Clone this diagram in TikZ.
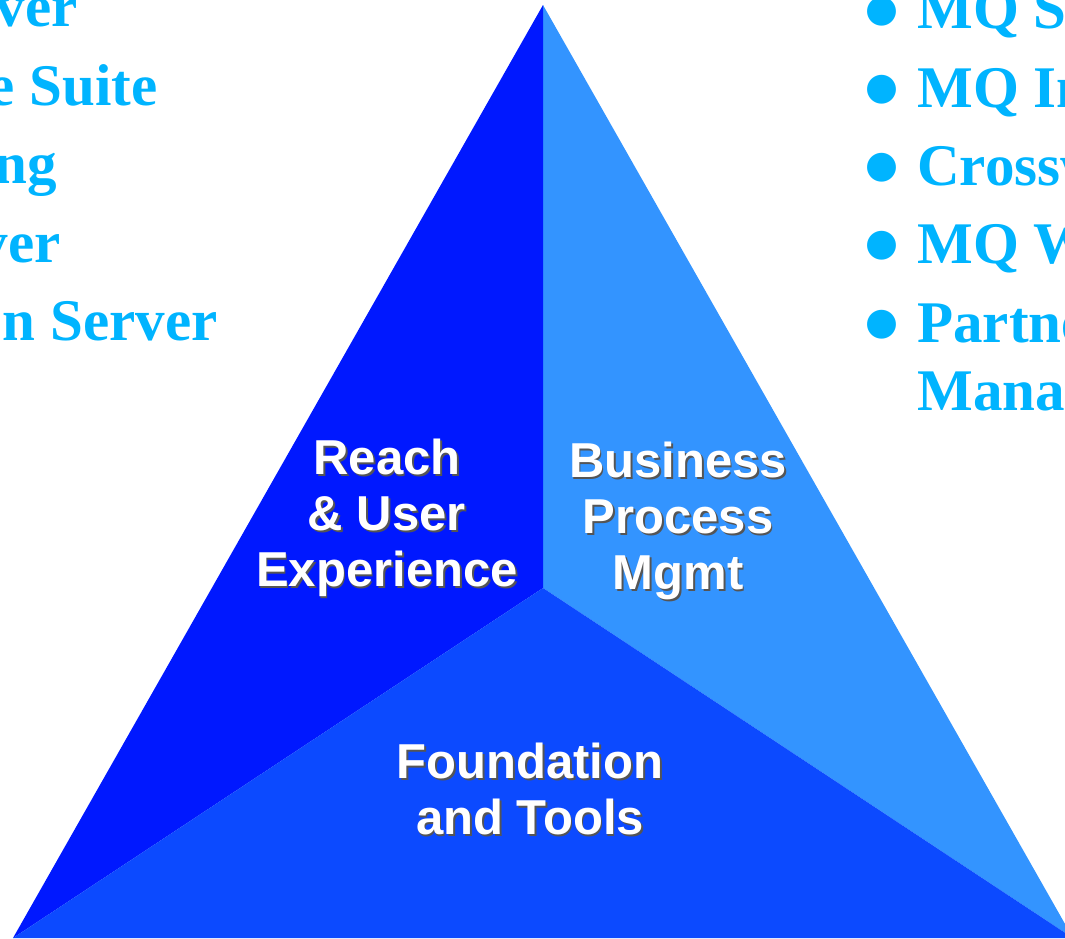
\documentclass[tikz,border=0pt]{standalone}
\usepackage{fontspec}
\usepackage{tikz}
\usetikzlibrary{positioning}
\setmainfont{Liberation Serif}
\newfontfamily\labelfont{Liberation Sans}
\newfontfamily\bulletfont{DejaVu Sans}
\definecolor{reachblue}{RGB}{0,24,255}
\definecolor{basisblue}{RGB}{12,74,255}
\definecolor{bpmblue}{RGB}{51,148,255}
\definecolor{listblue}{RGB}{0,180,255}
\definecolor{shadegray}{RGB}{85,85,85}
\newcommand{\shd}[1]{\rlap{\hspace{1pt}\raisebox{-1pt}{\color{shadegray}#1}}#1}
\tikzstyle{item} = [inner sep=0pt, text=listblue, font=\fontsize{33.6pt}{40pt}\selectfont\bfseries]
\tikzstyle{dot} = [inner sep=0pt, text=listblue, font=\bulletfont\fontsize{21.5pt}{26pt}\selectfont]
\tikzstyle{area} = [inner sep=0pt, text=white, align=center, font=\labelfont\bfseries\fontsize{27.9pt}{31.9pt}\selectfont]

\begin{document}
\begin{tikzpicture}[x=0.02cm, y=-0.02cm]
	\useasboundingbox (0,0) rectangle (1065,938);
	\clip (0,0) rectangle (1065,938);
	\coordinate (top) at (543,5);
	\coordinate (mid) at (543,588);
	\coordinate (left) at (13,938);
	\coordinate (right) at (1073,938);
	
	% the three parts of the triangle
	\fill [bpmblue] (top) -- (right) -- (mid) -- cycle;
	\fill [reachblue] (top) -- (mid) -- (left) -- cycle;
	\fill [basisblue] (left) -- (mid) -- (right) -- cycle;
	
	\node (reach) [area] at (387,519) {\shd{Reach}\\\shd{\& User}\\\shd{Experience}};
	\node (bpm) [area] at (678,522) {\shd{Business}\\\shd{Process}\\\shd{Mgmt}};
	\node (basis) [area] at (530,790) {\shd{Foundation}\\\shd{and Tools}};
	
	% left list, cut by the page edge
	\node (l1) [item, anchor=base east] at (78,26) {ver};
	\node (l2) [item, anchor=base east] at (158,105) {e Suite};
	\node (l3) [item, anchor=base east] at (57,183) {ng};
	\node (l4) [item, anchor=base east] at (61,262) {ver};
	\node (l5) [item, anchor=base east] at (218,340) {n Server};
	
	% right list
	\node (d1) [dot] at (882,12) {●};
	\node (d2) [dot] at (882,90) {●};
	\node (d3) [dot] at (882,168) {●};
	\node (d4) [dot] at (882,246) {●};
	\node (d5) [dot] at (882,325) {●};
	\node (r1) [item, anchor=base west] at (917,28) {MQ S};
	\node (r2) [item, anchor=base west] at (917,107) {MQ In};
	\node (r3) [item, anchor=base west] at (917,185) {Crossw};
	\node (r4) [item, anchor=base west] at (917,263) {MQ W};
	\node (r5) [item, anchor=base west] at (917,342) {Partne};
	\node (r6) [item, anchor=base west] at (917,410) {Manag};
\end{tikzpicture}
\end{document}
